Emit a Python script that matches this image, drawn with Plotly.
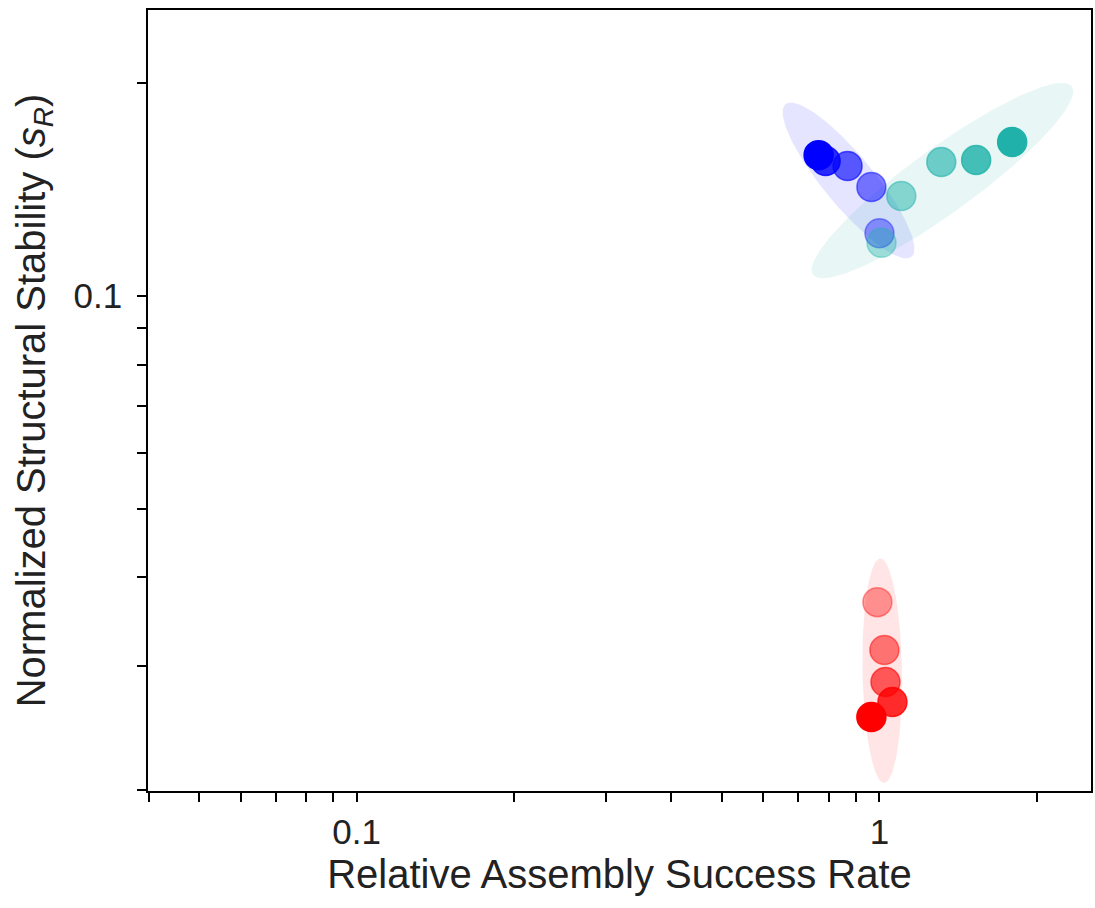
import numpy as np
import plotly.graph_objects as go

# Relative assembly success rate (x) and normalized structural stability (y)
# for three groups; points are listed from strongest to weakest shade.
blue_x = [0.765, 0.789, 0.869, 0.965, 1.000]
blue_y = [0.1582, 0.1552, 0.1527, 0.1426, 0.1227]

teal_x = [1.794, 1.531, 1.313, 1.101, 1.009]
teal_y = [0.1651, 0.1557, 0.1547, 0.1385, 0.1189]

red_x = [0.965, 1.059, 1.027, 1.022, 0.991]
red_y = [0.02538, 0.02665, 0.02844, 0.03157, 0.0369]

x_major = [0.1, 1]
x_major_text = ["0.1", "1"]
x_minor = [0.04, 0.05, 0.06, 0.07, 0.08, 0.09,
           0.2, 0.3, 0.4, 0.5, 0.6, 0.7, 0.8, 0.9, 2]
y_major = [0.1]
y_major_text = ["0.1"]
y_minor = [0.02, 0.03, 0.04, 0.05, 0.06, 0.07, 0.08, 0.09, 0.2]

# styling
OPACITY_STEPS = [1.0, 0.82, 0.62, 0.5, 0.38]
N_STD = 2.45
FONT = "Liberation Sans, Arial, sans-serif"

groups = [
    (blue_x, blue_y, (0, 0, 255)),
    (teal_x, teal_y, (32, 178, 170)),
    (red_x, red_y, (255, 0, 0)),
]


def rgba(rgb, a):
    return f"rgba({rgb[0]},{rgb[1]},{rgb[2]},{a})"


def confidence_ellipse(xs, ys, n_std=N_STD, n=200):
    """Covariance ellipse computed in log10 space, returned in data units."""
    lx, ly = np.log10(xs), np.log10(ys)
    cov = np.cov(lx, ly)
    vals, vecs = np.linalg.eigh(cov)
    t = np.linspace(0, 2 * np.pi, n)
    circle = np.vstack([np.cos(t), np.sin(t)])
    pts = vecs @ (np.sqrt(vals)[:, None] * n_std * circle)
    return 10 ** (pts[0] + lx.mean()), 10 ** (pts[1] + ly.mean())


fig = go.Figure()

for xs, ys, rgb in groups:
    ex, ey = confidence_ellipse(xs, ys)
    fig.add_trace(go.Scatter(
        x=ex, y=ey, mode="lines", fill="toself",
        fillcolor=rgba(rgb, 0.1), line=dict(width=0),
        hoverinfo="skip", showlegend=False,
    ))

for xs, ys, rgb in groups:
    # draw the faintest first so the strongest shade sits on top
    order = list(range(len(xs)))[::-1]
    fig.add_trace(go.Scatter(
        x=[xs[i] for i in order], y=[ys[i] for i in order], mode="markers",
        marker=dict(
            size=29,
            color=[rgba(rgb, OPACITY_STEPS[i]) for i in order],
            line=dict(color=[rgba(rgb, OPACITY_STEPS[i]) for i in order], width=1.5),
        ),
        showlegend=False,
    ))

axis_common = dict(
    showline=True, linecolor="black", linewidth=1.6, mirror=True,
    ticks="outside", ticklen=9, tickwidth=1.6, tickcolor="black",
    showgrid=False, zeroline=False,
    tickfont=dict(family=FONT, size=35, color="#222"),
)


def minor_ticks(vals):
    return dict(tickmode="array", tickvals=vals, ticks="outside",
                ticklen=9, tickwidth=1.6, tickcolor="black", showgrid=False)


fig.update_layout(
    width=1095, height=908,
    margin=dict(l=148, r=2, t=10, b=117),
    paper_bgcolor="white", plot_bgcolor="white",
    xaxis=dict(
        type="log", range=[-1.3989, 0.4046],
        tickmode="array", tickvals=x_major, ticktext=x_major_text,
        minor=minor_ticks(x_minor),
        title=dict(text="Relative Assembly Success Rate",
                   font=dict(family=FONT, size=40, color="#222"), standoff=10),
        **axis_common,
    ),
    yaxis=dict(
        type="log", range=[-1.7001, -0.5955],
        tickmode="array", tickvals=y_major, ticktext=y_major_text,
        minor=minor_ticks(y_minor),
        ticklabelstandoff=8,
        title=dict(text="Normalized Structural Stability (<i>s</i><sub><i>R</i></sub>)",
                   font=dict(family=FONT, size=40, color="#222"), standoff=16),
        **axis_common,
    ),
)

fig.write_html("out.html")
